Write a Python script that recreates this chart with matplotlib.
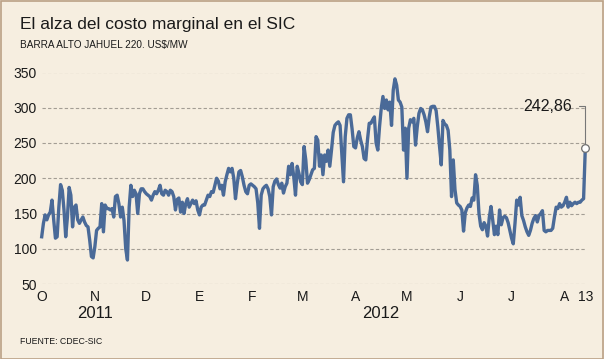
import matplotlib
matplotlib.use('Agg')
import matplotlib.pyplot as plt
import matplotlib.transforms as mtransforms
from matplotlib.patches import Rectangle
import pandas as pd

# ---------------- data ----------------
start_date = '2011-10-01'
values = [
    117, 136, 148, 141, 148, 152, 169, 141, 115, 117,
    159, 191, 183, 155, 117, 145, 187, 176, 131, 159,
    162, 141, 136, 141, 145, 138, 133, 131, 112, 89,
    87, 103, 126, 129, 131, 164, 124, 162, 157, 157,
    155, 157, 145, 174, 176, 164, 145, 159, 140, 100,
    84, 159, 190, 174, 183, 178, 150, 178, 185, 185,
    181, 178, 176, 174, 169, 176, 181, 178, 183, 190,
    178, 176, 183, 181, 176, 183, 181, 174, 155, 170,
    172, 152, 166, 150, 164, 171, 159, 164, 169, 164,
    168, 155, 148, 159, 162, 162, 169, 176, 174, 181,
    180, 190, 200, 196, 185, 190, 176, 195, 205, 214,
    209, 214, 200, 171, 192, 209, 211, 202, 190, 181,
    178, 190, 192, 190, 188, 185, 165, 129, 176, 185,
    188, 190, 185, 174, 148, 188, 196, 199, 191, 186,
    193, 179, 188, 193, 217, 205, 221, 202, 176, 217,
    207, 195, 191, 245, 226, 193, 198, 205, 212, 214,
    259, 254, 217, 233, 205, 233, 224, 240, 217, 240,
    265, 275, 278, 280, 275, 235, 195, 259, 285, 290,
    290, 270, 245, 243, 257, 266, 254, 245, 228, 226,
    255, 278, 278, 283, 287, 250, 240, 273, 299, 316,
    299, 311, 297, 308, 275, 325, 341, 332, 311, 308,
    301, 240, 271, 200, 271, 283, 280, 285, 247, 273,
    292, 299, 297, 290, 280, 266, 287, 301, 302, 302,
    296, 273, 245, 219, 282, 277, 275, 268, 240, 174,
    226, 184, 165, 162, 160, 155, 125, 151, 158, 162,
    160, 172, 169, 205, 190, 150, 132, 127, 137, 132,
    118, 144, 160, 141, 120, 132, 120, 155, 134, 144,
    146, 144, 137, 126, 115, 107, 136, 169, 162, 173,
    147, 140, 131, 124, 119, 126, 136, 143, 147, 138,
    147, 150, 154, 126, 124, 126, 126, 126, 129, 145,
    159, 157, 164, 159, 161, 166, 173, 159, 166, 161,
    164, 166, 164, 166, 166, 169, 171, 242.86,
]
month_ticks = ['2011-10-01', '2011-11-01', '2011-12-01', '2012-01-01',
               '2012-02-01', '2012-03-01', '2012-04-01', '2012-05-01',
               '2012-06-01', '2012-07-01', '2012-08-01', '2012-08-13']
month_labels = ['O', 'N', 'D', 'E', 'F', 'M', 'A', 'M', 'J', 'J', 'A', '13']
y_ticks = [50, 100, 150, 200, 250, 300, 350]
year_labels = ['2011', '2012']
year_positions = ['2011-11-01', '2012-04-16']
last_label = '242,86'

title = 'El alza del costo marginal en el SIC'
subtitle = 'BARRA ALTO JAHUEL 220. US$/MW'
source = 'FUENTE: CDEC-SIC'

# ---------------- style ----------------
W, H = 604, 359
bg = '#F6EEE0'
line_color = '#4A6A98'
grid_color = '#A39D94'
narrow = ['Liberation Sans Narrow', 'Liberation Sans', 'DejaVu Sans']
regular = ['Liberation Sans', 'DejaVu Sans']

fig = plt.figure(figsize=(W / 100, H / 100), dpi=100, facecolor=bg)
fig.patches.append(Rectangle((0.5 / W, 0.5 / H), 1 - 1.5 / W, 1 - 1.5 / H,
                             transform=fig.transFigure, fill=False,
                             edgecolor='#BBA085', lw=1.2))

x0, x1 = 41.7, 585.3
ytop, ybot = 72.5, 284.0
ax = fig.add_axes([x0 / W, 1 - ybot / H, (x1 - x0) / W, (ybot - ytop) / H])
ax.set_facecolor(bg)

dates = pd.date_range(start_date, periods=len(values), freq='D')
ax.plot(dates, values, color=line_color, lw=2.4, solid_joinstyle='round',
        clip_on=False, zorder=3)
ax.plot(dates[-1], values[-1], 'o', mfc='white', mec='#6E6E6E', mew=0.9,
        ms=5.5, clip_on=False, zorder=5)

ax.annotate(last_label, xy=(dates[-1], values[-1]), xytext=(-13, 42),
            textcoords='offset pixels', ha='right', va='center',
            fontsize=11.5, family=narrow, color='#1a1a1a',
            arrowprops=dict(arrowstyle='-', color='#777777', lw=0.8,
                            connectionstyle='angle,angleA=0,angleB=90,rad=0',
                            relpos=(1, 0.5), shrinkA=3, shrinkB=3),
            zorder=6)

ax.set_xlim(dates[0], dates[-1])
ax.set_ylim(y_ticks[0], y_ticks[-1])
ax.set_yticks(y_ticks)
ax.set_yticklabels([str(v) for v in y_ticks], family=narrow, fontsize=10,
                   color='#1a1a1a')
ax.set_xticks(pd.to_datetime(month_ticks))
ax.set_xticklabels(month_labels, family=narrow, fontsize=10, color='#1a1a1a')
ax.tick_params(axis='both', length=0)
ax.tick_params(axis='y', pad=3.5)
ax.tick_params(axis='x', pad=4.5)
for s in ax.spines.values():
    s.set_visible(False)
ax.yaxis.grid(True, color=grid_color, lw=0.8, ls=(0, (3, 2)))
ax.set_axisbelow(True)

trans = mtransforms.blended_transform_factory(ax.transData, fig.transFigure)
for lab, pos in zip(year_labels, year_positions):
    ax.text(pd.Timestamp(pos), 1 - 313 / H, lab, transform=trans,
            ha='center', va='center', fontsize=12, family=narrow,
            color='#1a1a1a')

fig.text(20 / W, 1 - 29.3 / H, title, ha='left', va='baseline',
         fontsize=12.5, family=regular, color='#1a1a1a')
fig.text(20 / W, 1 - 48.3 / H, subtitle, ha='left', va='baseline',
         fontsize=7.2, family=regular, color='#1a1a1a')
fig.text(20 / W, 1 - 344 / H, source, ha='left', va='baseline',
         fontsize=6.3, family=regular, color='#1a1a1a')

fig.savefig('out.png', dpi=100, facecolor=bg)
